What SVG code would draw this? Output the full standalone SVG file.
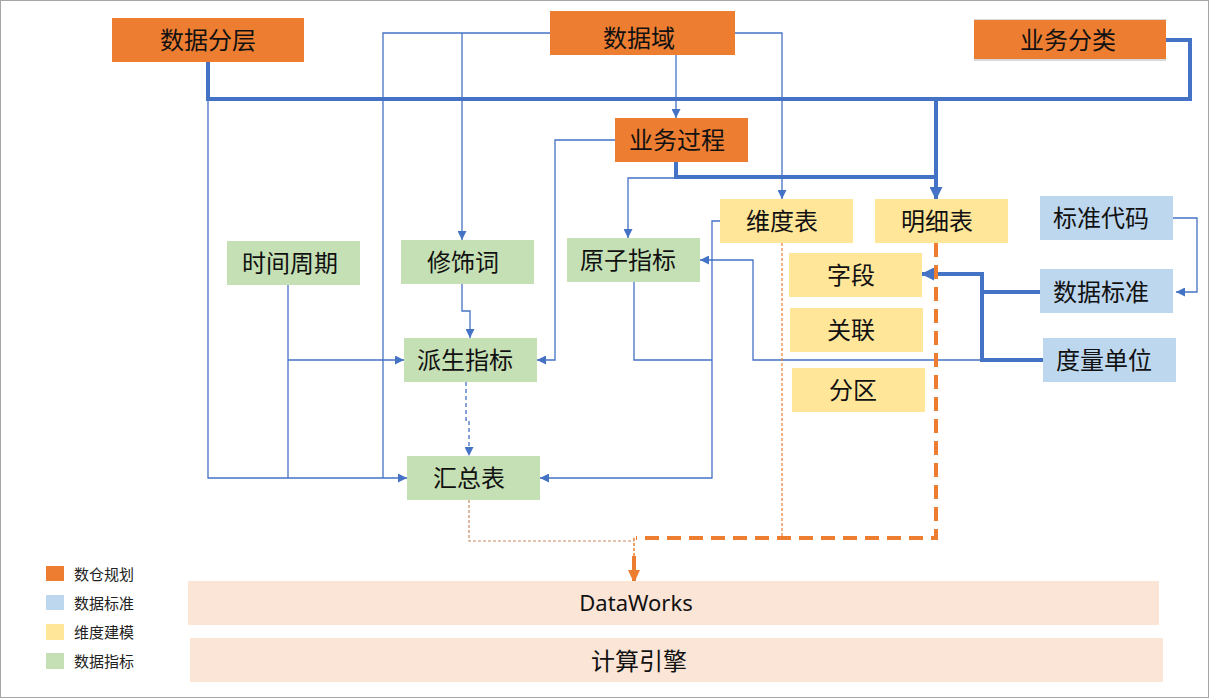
<svg xmlns="http://www.w3.org/2000/svg" width="1209" height="698" viewBox="0 0 1209 698">
<style>
.t{font-family:"Noto Sans CJK SC","Noto Sans",sans-serif;font-size:24px;fill:#111;text-anchor:middle;dominant-baseline:central}
.lg{font-family:"Noto Sans CJK SC","Noto Sans",sans-serif;font-size:15px;fill:#222;dominant-baseline:central}
.or{fill:#ED7D31}.bl{fill:#BDD7EE}.ye{fill:#FFE699}.gr{fill:#C5E0B4}.pe{fill:#FBE5D6}
.c{fill:none;stroke:#4472C4;stroke-width:1.3}
.k{fill:none;stroke:#4472C4;stroke-width:4}
</style>
<defs>
<marker id="a" markerUnits="userSpaceOnUse" markerWidth="9" markerHeight="9" refX="9" refY="4.5" orient="auto"><path d="M0,0 L9,4.5 L0,9 z" fill="#4472C4"/></marker>
<marker id="ak" markerUnits="userSpaceOnUse" markerWidth="13" markerHeight="13" refX="12" refY="6.5" orient="auto"><path d="M0,0 L13,6.5 L0,13 z" fill="#4472C4"/></marker>
<marker id="ao" markerUnits="userSpaceOnUse" markerWidth="13" markerHeight="12" refX="12" refY="6" orient="auto"><path d="M0,0 L13,6 L0,12 z" fill="#ED7D31"/></marker>
</defs>
<rect x="0.5" y="0.5" width="1208" height="697" fill="#fff" stroke="#a6a6a6"/>

<g id="connectors">
<path class="c" d="M550,33 H383 V478"/>
<path class="c" d="M462,33 V240" marker-end="url(#a)"/>
<path class="c" d="M735,33 H782 V199" marker-end="url(#a)"/>
<path class="c" d="M676,55 V118" marker-end="url(#a)"/>
<path class="c" d="M208,99 V478 H407" marker-end="url(#a)"/>
<path class="c" d="M288,285 V478"/>
<path class="c" d="M288,360 H404" marker-end="url(#a)"/>
<path class="c" d="M462,284 V311 H470 V338" marker-end="url(#a)"/>
<path class="c" d="M466,382 V420 H469 V456" stroke-dasharray="4,3" marker-end="url(#a)"/>
<path class="c" d="M615,140 H555 V360 H537" marker-end="url(#a)"/>
<path class="c" d="M676,178 H628 V238" marker-end="url(#a)"/>
<path class="c" d="M634,282 V360 H712"/>
<path class="c" d="M720,221 H712 V478 H540" marker-end="url(#a)"/>
<path class="c" d="M1043,360 H753 V260 H700" marker-end="url(#a)"/>
<path class="c" d="M1173,218 H1197 V292 H1176" marker-end="url(#a)"/>
<path class="k" d="M208,61 V99 H1190 V40 H1166"/>
<path class="k" d="M936,99 V199" marker-end="url(#ak)"/>
<path class="k" d="M676,162 V177 H936"/>
<path class="k" d="M1040,292 H982"/>
<path class="k" d="M1043,360 H982 V274 H922" marker-end="url(#ak)"/>
<path d="M782,243 V538" fill="none" stroke="#ED7D31" stroke-width="1.2" stroke-dasharray="3,2"/>
<path d="M469,500 V541 H634" fill="none" stroke="#C98A62" stroke-width="1.2" stroke-dasharray="3,2"/>
<path d="M936,243 V538 H636" fill="none" stroke="#ED7D31" stroke-width="4" stroke-dasharray="14,8"/>
<path d="M634,538 V556" fill="none" stroke="#ED7D31" stroke-width="1.5" stroke-dasharray="3,2"/>
<path d="M634,556 V582" fill="none" stroke="#ED7D31" stroke-width="4" marker-end="url(#ao)"/>
</g>

<g id="n-sjfc"><rect class="or" x="112" y="18" width="192" height="44"/><text class="t" x="208" y="38">数据分层</text></g>
<g id="n-sjy"><rect class="or" x="550" y="11" width="185" height="44"/><text class="t" x="639" y="36">数据域</text></g>
<g id="n-ywfl"><rect x="974" y="19" width="192" height="42" fill="#d9d9d9"/><rect class="or" x="974" y="20" width="192" height="39"/><text class="t" x="1068" y="38">业务分类</text></g>
<g id="n-ywgc"><rect class="or" x="615" y="118" width="133" height="44"/><text class="t" x="677" y="138">业务过程</text></g>
<g id="n-wdb"><rect class="ye" x="720" y="199" width="133" height="44"/><text class="t" x="782" y="219">维度表</text></g>
<g id="n-mxb"><rect class="ye" x="875" y="199" width="133" height="44"/><text class="t" x="937" y="219">明细表</text></g>
<g id="n-zd"><rect class="ye" x="789" y="253" width="133" height="44"/><text class="t" x="851" y="273">字段</text></g>
<g id="n-gl"><rect class="ye" x="790" y="308" width="133" height="44"/><text class="t" x="851" y="328">关联</text></g>
<g id="n-fq"><rect class="ye" x="792" y="368" width="133" height="44"/><text class="t" x="853" y="388">分区</text></g>
<g id="n-bzdm"><rect class="bl" x="1040" y="196" width="133" height="44"/><text class="t" x="1101" y="216">标准代码</text></g>
<g id="n-sjbz"><rect class="bl" x="1040" y="269" width="133" height="44"/><text class="t" x="1101" y="290">数据标准</text></g>
<g id="n-dldw"><rect class="bl" x="1043" y="338" width="133" height="44"/><text class="t" x="1104" y="358">度量单位</text></g>
<g id="n-sjzq"><rect class="gr" x="227" y="241" width="133" height="44"/><text class="t" x="290" y="261">时间周期</text></g>
<g id="n-xsc"><rect class="gr" x="401" y="240" width="133" height="44"/><text class="t" x="463" y="260">修饰词</text></g>
<g id="n-yzzb"><rect class="gr" x="567" y="238" width="133" height="44"/><text class="t" x="628" y="258">原子指标</text></g>
<g id="n-pszb"><rect class="gr" x="404" y="338" width="133" height="44"/><text class="t" x="465" y="358">派生指标</text></g>
<g id="n-hzb"><rect class="gr" x="407" y="456" width="133" height="44"/><text class="t" x="469" y="476">汇总表</text></g>
<g id="n-dw"><rect class="pe" x="188" y="581" width="971" height="44"/><text class="t" x="636" y="602" style="font-family:'Noto Sans',sans-serif;font-size:22px">DataWorks</text></g>
<g id="n-jsyq"><rect class="pe" x="190" y="638" width="973" height="44"/><text class="t" x="639" y="659">计算引擎</text></g>

<g id="legend">
<rect class="or" x="46" y="566" width="18" height="15"/><text class="lg" x="74" y="573">数仓规划</text>
<rect class="bl" x="46" y="595" width="18" height="15"/><text class="lg" x="74" y="602">数据标准</text>
<rect class="ye" x="46" y="624" width="18" height="16"/><text class="lg" x="74" y="631">维度建模</text>
<rect class="gr" x="46" y="653" width="18" height="16"/><text class="lg" x="74" y="660">数据指标</text>
</g>
</svg>
